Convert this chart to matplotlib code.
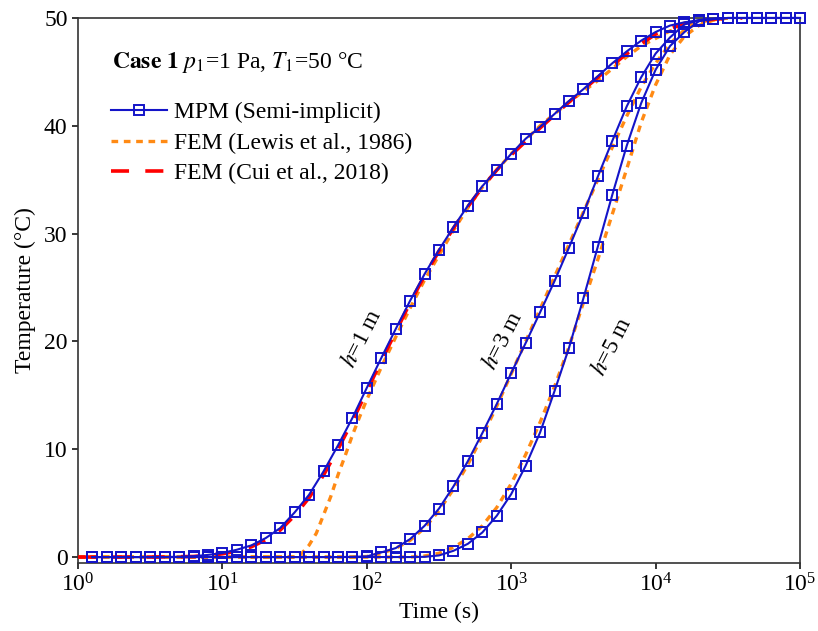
import matplotlib
matplotlib.use("Agg")
import numpy as np
import matplotlib.pyplot as plt
from matplotlib.ticker import LogLocator, NullLocator, LogFormatterMathtext

# ─────────────────────────────────────────────────────────────────────────────
# DATA  (times given as log10 exponents)
# ─────────────────────────────────────────────────────────────────────────────

mpm_exp = [0.1, 0.2, 0.3, 0.4, 0.5, 0.6, 0.7, 0.8, 0.9, 1.0,
           1.1, 1.2, 1.3, 1.4, 1.5, 1.6, 1.7, 1.8, 1.9, 2.0,
           2.1, 2.2, 2.3, 2.4, 2.5, 2.6, 2.7, 2.8, 2.9, 3.0,
           3.1, 3.2, 3.3, 3.4, 3.5, 3.6, 3.7, 3.8, 3.9, 4.0,
           4.1, 4.2, 4.3, 4.4, 4.5, 4.6, 4.7, 4.8, 4.9, 5.0]

mpm_h1 = [0, 0, 0, 0, 0, 0, 0.03, 0.08, 0.2, 0.37,
          0.68, 1.08, 1.76, 2.69, 4.14, 5.78, 7.94, 10.35, 12.9, 15.7,
          18.46, 21.15, 23.78, 26.25, 28.5, 30.6, 32.6, 34.4, 35.9, 37.4,
          38.8, 39.9, 41.1, 42.3, 43.4, 44.6, 45.8, 46.9, 47.9, 48.7,
          49.3, 49.6, 49.8, 49.9, 50, 50, 50, 50, 50, 50]

mpm_h3 = [0, 0, 0, 0, 0, 0, 0, 0, 0, 0,
          0, 0, 0, 0, 0, 0, 0, 0, 0.02, 0.06,
          0.43, 0.83, 1.67, 2.9, 4.5, 6.55, 8.9, 11.5, 14.2, 17.07,
          19.85, 22.7, 25.6, 28.7, 31.9, 35.3, 38.6, 41.8, 44.5, 46.7,
          48.2, 49.4, 49.8, 49.95, 50, 50, 50, 50, 50, 50]

mpm_h5 = [0, 0, 0, 0, 0, 0, 0, 0, 0, 0,
          0, 0, 0, 0, 0, 0, 0, 0, 0, 0,
          0, 0, 0, 0.02, 0.15, 0.58, 1.23, 2.28, 3.83, 5.84,
          8.47, 11.56, 15.4, 19.4, 24.0, 28.8, 33.6, 38.15, 42.1, 45.2,
          47.4, 48.7, 49.7, 49.9, 50, 50, 50, 50, 50, 50]

lewis_h1_exp = [0, 0.5, 1.0, 1.5, 1.55, 1.6, 1.65, 1.7, 1.75, 1.8, 1.85, 1.9,
                1.95, 2.0, 2.1, 2.2, 2.3, 2.4, 2.5, 2.6, 2.7, 2.8, 2.9, 3.0,
                3.2, 3.4, 3.6, 3.8, 3.9, 4.0, 4.1, 4.2, 4.3, 4.4, 4.5]
lewis_h1 = [0, 0, 0, 0, 0.35, 1.1, 2.2, 3.9, 5.6, 7.6, 9.4, 11.3,
            13.0, 14.6, 17.6, 20.4, 23.1, 25.7, 28.0, 30.3, 32.4, 34.3, 35.9, 37.4,
            40.0, 42.2, 44.2, 46.4, 47.4, 48.1, 48.8, 49.2, 49.6, 49.9, 50]

lewis_h3_exp = [0, 1.0, 1.9, 2.0, 2.1, 2.2, 2.3, 2.4, 2.5, 2.6, 2.7, 2.8, 2.9,
                3.0, 3.1, 3.2, 3.3, 3.4, 3.5, 3.6, 3.7, 3.8, 3.9, 4.0, 4.1,
                4.2, 4.3, 4.4, 4.5]
lewis_h3 = [0, 0, 0, 0.05, 0.35, 0.8, 1.55, 2.7, 4.3, 6.3, 8.6, 11.2, 14.0,
            17.0, 20.0, 23.0, 26.0, 29.0, 32.0, 35.0, 38.0, 40.9, 43.6, 45.8, 47.6,
            48.9, 49.6, 49.9, 50]

lewis_h5_exp = [0, 1.0, 2.0, 2.3, 2.4, 2.5, 2.6, 2.7, 2.8, 2.9, 3.0, 3.1, 3.2,
                3.3, 3.4, 3.5, 3.6, 3.7, 3.8, 3.9, 4.0, 4.1, 4.2, 4.3, 4.4, 4.5]
lewis_h5 = [0, 0, 0, 0, 0.1, 0.35, 0.9, 1.7, 2.9, 4.6, 6.8, 9.5, 12.5,
            15.8, 19.5, 23.6, 27.6, 31.8, 36.0, 40.3, 43.8, 46.6, 48.3, 49.3, 49.8, 50]

cui_h1_exp = [0, 0.5, 0.8, 1.0, 1.1, 1.2, 1.3, 1.4, 1.5, 1.6, 1.7, 1.8, 1.9,
              2.0, 2.1, 2.2, 2.3, 2.4, 2.5, 2.6, 2.7, 2.8, 2.9, 3.0, 3.2,
              3.4, 3.6, 3.8, 4.0, 4.2, 4.4, 4.6]
cui_h1 = [0, 0, 0.05, 0.3, 0.55, 0.95, 1.6, 2.5, 3.85, 5.5, 7.6, 10.0, 12.6,
          15.4, 18.2, 20.9, 23.6, 26.1, 28.4, 30.5, 32.5, 34.3, 35.9, 37.3, 39.8,
          42.2, 44.5, 46.7, 48.5, 49.5, 49.9, 50]

depth_labels = ["1", "3", "5"]

# ─────────────────────────────────────────────────────────────────────────────
# STYLE
# ─────────────────────────────────────────────────────────────────────────────

BLUE   = "#1414C8"
ORANGE = "#FF8A14"
RED    = "#FF0000"

plt.rcParams["font.family"]      = ["Liberation Serif", "DejaVu Serif"]
plt.rcParams["mathtext.fontset"] = "stix"
plt.rcParams["font.size"]        = 17

fig = plt.figure(figsize=(8.18, 6.31), dpi=100)
ax  = fig.add_axes([0.0954, 0.1078, 0.8826, 0.8637])

t = lambda e: np.power(10.0, e)

# FEM (Lewis) - orange short dashes
for i, (ex, val) in enumerate([(lewis_h1_exp, lewis_h1),
                               (lewis_h3_exp, lewis_h3),
                               (lewis_h5_exp, lewis_h5)]):
    ax.plot(t(np.array(ex)), val, color=ORANGE, linewidth=2.4,
            dashes=(2.0, 1.7), zorder=2,
            label="FEM (Lewis et al., 1986)" if i == 0 else None)

# FEM (Cui) - red long dashes
ax.plot(t(np.array(cui_h1_exp)), cui_h1, color=RED, linewidth=2.6,
        dashes=(5, 4.5), zorder=3, label="FEM (Cui et al., 2018)")

# MPM - blue line + open squares
for i, val in enumerate([mpm_h1, mpm_h3, mpm_h5]):
    ax.plot(t(np.array(mpm_exp)), val, color=BLUE, linewidth=1.5,
            marker="s", markersize=7.5, markerfacecolor="none",
            markeredgewidth=1.4, zorder=4, clip_on=False,
            label="MPM (Semi-implicit)" if i == 0 else None)

ax.set_xscale("log")
ax.set_xlim(1, 1e5)
ax.set_ylim(-0.55, 50)
ax.xaxis.set_major_locator(LogLocator(base=10, numticks=10))
ax.xaxis.set_minor_locator(NullLocator())
ax.xaxis.set_major_formatter(LogFormatterMathtext())
ax.set_yticks([0, 10, 20, 30, 40, 50])

ax.tick_params(axis="both", which="major", direction="out", length=4,
               width=1.1, labelsize=17, top=False, right=False)
for sp in ax.spines.values():
    sp.set_linewidth(1.2)
    sp.set_color("#333333")

ax.set_xlabel("Time (s)", fontsize=17, labelpad=4)
ax.set_ylabel("Temperature (°C)", fontsize=17, labelpad=6)

# ── Legend ordering: MPM, Lewis, Cui ─────────────────────────────────────────
handles, labels = ax.get_legend_handles_labels()
order = [labels.index("MPM (Semi-implicit)"),
         labels.index("FEM (Lewis et al., 1986)"),
         labels.index("FEM (Cui et al., 2018)")]
ax.legend([handles[k] for k in order], [labels[k] for k in order],
          loc="upper left", bbox_to_anchor=(0.046, 0.846), frameon=False,
          fontsize=17, handlelength=2.35, handletextpad=0.3,
          labelspacing=0.38, borderpad=0, borderaxespad=0)

ax.text(0.047, 0.918, r"$\mathbf{Case\ 1}$ $p_1$=1 Pa, $T_1$=50 °C",
        transform=ax.transAxes, fontsize=17, ha="left", va="center")

# ── Depth annotations ───────────────────────────────────────────────────────
label_pos = [(362, 338), (503, 340), (612, 346)]
for d, (px, py) in zip(depth_labels, label_pos):
    fx, fy = px / 818, 1 - py / 631
    fig.text(fx, fy, rf"$h$=" + d + " m", fontsize=17, rotation=63,
             ha="center", va="center")

fig.savefig("out.png", dpi=100)
